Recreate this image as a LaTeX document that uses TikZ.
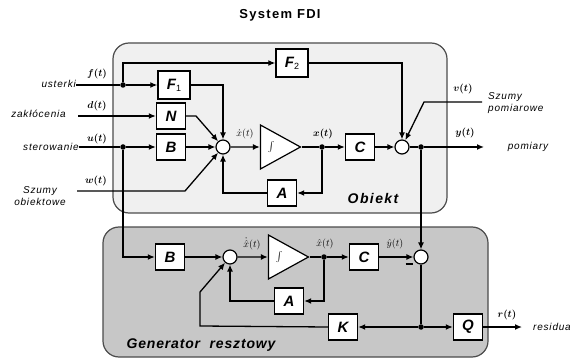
\documentclass[tikz,border=0pt]{standalone}
\usepackage{fontspec}
\setmainfont{Liberation Sans}
\newfontfamily\labfont[LetterSpace=8]{Liberation Sans}
\newfontfamily\ttlfont[LetterSpace=10]{Liberation Sans}
\newfontfamily\genfont[LetterSpace=6]{Liberation Sans}
\usepackage{bm}
\usetikzlibrary{arrows.meta,shapes.geometric}
\begin{document}
\begin{tikzpicture}[x=1pt,y=-1pt,
  blk/.style={draw, line width=1.4pt, fill=white, minimum width=29pt, minimum height=26pt, inner sep=0pt, font=\fontsize{15}{15}\selectfont\bfseries\itshape},
  bigblk/.style={blk, minimum width=32pt, minimum height=28pt},
  sumc/.style={circle, draw, line width=1.2pt, fill=white, minimum size=14pt, inner sep=0pt},
  dotn/.style={circle, fill=black, minimum size=5.5pt, inner sep=0pt},
  integ/.style={isosceles triangle, isosceles triangle stretches, draw, line width=1.2pt, fill=white, minimum width=44pt, minimum height=40pt, inner sep=0pt, font=\fontsize{11}{11}\selectfont},
  ln/.style={line width=1.3pt},
  arr/.style={ln, -{Latex[length=7pt,width=6pt]}},
  sig/.style={font=\fontsize{10}{10}\selectfont, inner sep=0pt},
  lab/.style={font=\fontsize{10}{12}\selectfont\labfont\itshape, inner sep=0pt},
  frame/.style={line width=1.2pt, draw=black!70, rounded corners=16pt},
]
\path[use as bounding box, fill=white] (0,0) rectangle (570,358);

% title
\node[font=\fontsize{13}{13}\selectfont\ttlfont\bfseries] (title) at (280,15) {System FDI};

% frames
\draw[frame, fill=black!6] (113,43) rectangle (447,213);
\draw[frame, fill=black!22] (103,227) rectangle (488,357);

% ---------- upper part (Obiekt)
\node[bigblk] (F1) at (174,85) {F\raisebox{-2pt}{\fontsize{9}{9}\selectfont\mdseries\upshape 1}};
\node[bigblk] (F2) at (292,63) {F\raisebox{-2pt}{\fontsize{9}{9}\selectfont\mdseries\upshape 2}};
\node[blk] (N) at (171,116) {N};
\node[blk] (B1) at (171,147) {B};
\node[sumc] (S1) at (223,147) {};
\node[integ, anchor=apex] (I1) at (302,147) {$\int$};
\node[dotn] (X1) at (322,147) {};
\node[blk] (C1) at (360,147) {C};
\node[sumc] (S2) at (402,147) {};
\node[dotn] (Y1) at (421,147) {};
\node[blk] (A1) at (282,193) {A};
\coordinate (yend) at (484,147);

\coordinate (fin) at (76,85);
\node[dotn] (Jf) at (123,85) {};
\coordinate (din) at (78,116);
\coordinate (uin) at (79,147);
\node[dotn] (Ju) at (123,147) {};
\coordinate (win) at (77,191);
\coordinate (wk) at (185,191);
\coordinate (vin) at (482,102);
\coordinate (vk) at (424,102);
\coordinate (nk) at (196,116);

\draw[ln] (fin) -- (Jf);
\draw[arr] (Jf) -- (F1);
\draw[arr] (Jf) |- (F2);
\draw[arr] (F1) -| (S1);
\draw[arr] (din) -- (N);
\draw[arr] (N.east) -- (nk) -- (S1);
\draw[ln] (uin) -- (Ju);
\draw[arr] (Ju) -- (B1);
\draw[arr] (B1) -- (S1);
\draw[arr] (win) -- (wk) -- (S1);
\draw[arr] (S1) -- (I1.west);
\draw[ln] (I1.apex) -- (X1);
\draw[arr] (X1) -- (C1);
\draw[arr] (C1) -- (S2);
\draw[arr] (X1) |- (A1);
\draw[arr] (A1) -| (S1);
\draw[arr] (F2) -| (S2);
\draw[arr] (vin) -- (vk) -- (S2);
\draw[ln] (S2) -- (Y1);
\draw[arr] (Y1) -- (yend);

% ---------- lower part (Generator)
\node[blk] (B2) at (170,257) {B};
\node[sumc] (S3) at (230,257) {};
\node[integ, anchor=apex] (I2) at (310,257) {$\int$};
\node[dotn] (X2) at (324,257) {};
\node[blk] (C2) at (364,257) {C};
\node[sumc] (S4) at (421,257) {};
\node[blk] (A2) at (289,301) {A};
\node[blk] (K) at (343,327) {K};
\node[blk] (Q) at (468,327) {Q};
\node[dotn] (J) at (421,327) {};
\coordinate (rend) at (522,327);
\coordinate (kk1) at (200,326);
\coordinate (kk2) at (200,292);

\draw[arr] (Ju) |- (B2);
\draw[arr] (Y1) -- (S4);
\draw[arr] (B2) -- (S3);
\draw[arr] (S3) -- (I2.west);
\draw[ln] (I2.apex) -- (X2);
\draw[arr] (X2) -- (C2);
\draw[arr] (C2) -- (S4);
\draw[arr] (X2) |- (A2);
\draw[arr] (A2) -| (S3);
\draw[ln] (S4) -- (J);
\draw[arr] (J) -- (Q);
\draw[arr] (J) -- (K);
\draw[arr] (Q) -- (rend);
\draw[arr] (K.west) -- (kk1) -- (kk2) -- (S3);
\node[font=\fontsize{12}{12}\selectfont\bfseries] (minus) at (409,264) {\rule{7pt}{1.4pt}};

% ---------- signal labels
\node[sig] (lf) at (97,74) {$\bm{f(t)}$};
\node[sig] (ld) at (97,106) {$\bm{d(t)}$};
\node[sig] (lu) at (97,139) {$\bm{u(t)}$};
\node[sig] (lw) at (96,181) {$\bm{w(t)}$};
\node[sig] (lv) at (463,89) {$\bm{v(t)}$};
\node[sig] (ly) at (465,133) {$\bm{y(t)}$};
\node[sig] (lr) at (507,315) {$\bm{r(t)}$};
\node[sig] (lxd) at (245,134) {$\dot{x}(t)$};
\node[sig] (lx) at (323,134) {$\bm{x(t)}$};
\node[sig] (lxhd) at (252,244) {$\dot{\hat{x}}(t)$};
\node[sig] (lxh) at (325,244) {$\hat{x}(t)$};
\node[sig] (lyh) at (395,244) {$\hat{y}(t)$};

% ---------- text labels
\node[lab, anchor=east] (tf) at (76,84) {usterki};
\node[lab, anchor=east] (td) at (66,114) {zakłócenia};
\node[lab, anchor=east] (tu) at (79,147) {sterowanie};
\node[lab, align=center] (tw) at (40,196) {Szumy\\obiektowe};
\node[lab, align=left, anchor=west] (tv) at (488,103) {Szumy\\pomiarowe};
\node[lab] (ty) at (528,147) {pomiary};
\node[lab, anchor=west] (tr) at (533,327) {residua};
\node[font=\fontsize{14}{14}\selectfont\ttlfont\bfseries\itshape] (tob) at (373,198) {Obiekt};
\node[font=\fontsize{14}{14}\selectfont\genfont\bfseries\itshape] (tgen) at (201,345) {Generator\ \ resztowy};
\end{tikzpicture}
\end{document}
